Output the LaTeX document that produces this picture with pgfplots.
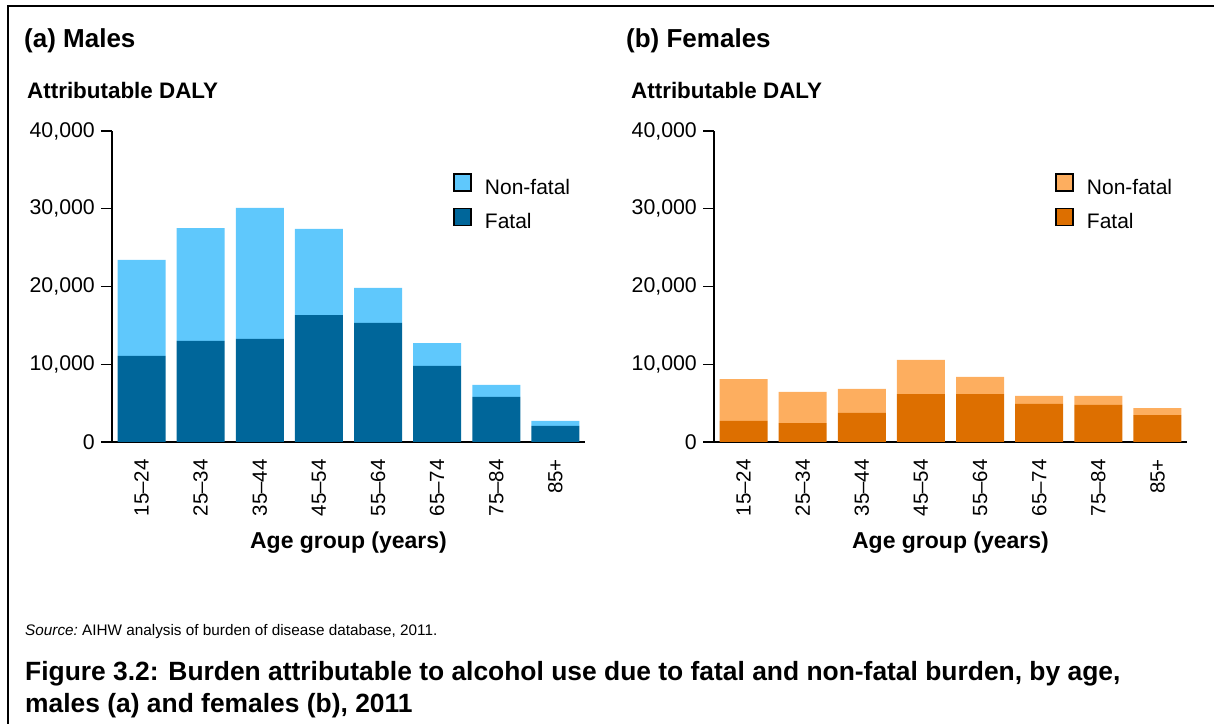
\documentclass[border=0pt]{standalone}
\usepackage{fontspec}
\setmainfont{Liberation Sans}
\usepackage{pgfplots}
\pgfplotsset{compat=1.18}

\definecolor{mlight}{HTML}{5FC8FC}
\definecolor{mdark}{HTML}{00669A}
\definecolor{flight}{HTML}{FDAE5F}
\definecolor{fdark}{HTML}{DD6F00}

\newcommand{\fs}[1]{\fontsize{#1bp}{1.2\dimexpr#1bp\relax}\selectfont}

\pgfplotsset{
  panel/.style={
    ybar stacked, bar width=48bp,
    scale only axis, width=473bp, height=311bp,
    xmin=-0.5, xmax=7.5, ymin=0, ymax=40000,
    axis x line*=bottom, axis y line*=left,
    x axis line style={line width=2.2bp},
    y axis line style={line width=1.4bp},
    xtick=data,
    xticklabels={15--24,25--34,35--44,45--54,55--64,65--74,75--84,85+},
    x tick style={draw=none},
    xticklabel style={rotate=90, anchor=east, inner sep=0pt, font=\fs{20.5}},
    xticklabel shift=6bp,
    ytick={0,10000,20000,30000,40000},
    yticklabels={0,{10,000},{20,000},{30,000},{40,000}},
    scaled y ticks=false,
    y tick style={line width=1.4bp, black},
    major tick length=11bp, tick align=outside,
    yticklabel style={inner sep=0pt, font=\fs{21.3}},
    yticklabel shift=6bp,
    legend style={draw=none, fill=none, at={(0.721,0.865)}, anchor=north west,
      inner sep=0pt, font=\fs{21}, row sep=10bp, column sep=0pt},
    legend cell align=left,
    reverse legend,
    legend image code/.code={
      \draw[##1, draw=black, line width=1.4bp] (0bp,-3.5bp) rectangle (17bp,13.5bp);
      \path (29bp,0bp);},
  }
}

\begin{document}
\begin{tikzpicture}[x=1bp, y=1bp]
\useasboundingbox (0,0) rectangle (1214,724);

% frame: top and left edges only
\draw[line width=2bp] (8,0) -- (8,718) -- (1214,718);

% (a) males
\begin{axis}[panel, at={(112bp,282bp)}, anchor=south west]
  \addplot[fill=mdark, draw=none] coordinates {
    (0,11060) (1,12990) (2,13250) (3,16330)
    (4,15310) (5,9775) (6,5790) (7,2060)
  };
  \addplot[fill=mlight, draw=none] coordinates {
    (0,12350) (1,14530) (2,16850) (3,11070)
    (4,4500) (5,2955) (6,1540) (7,640)
  };
  \legend{Fatal, Non-fatal}
\end{axis}

% (b) females
\begin{axis}[panel, at={(714bp,282bp)}, anchor=south west]
  \addplot[fill=fdark, draw=none] coordinates {
    (0,2700) (1,2440) (2,3730) (3,6170)
    (4,6170) (5,4890) (6,4760) (7,3470)
  };
  \addplot[fill=flight, draw=none] coordinates {
    (0,5400) (1,3990) (2,3090) (3,4380)
    (4,2190) (5,1030) (6,1160) (7,900)
  };
  \legend{Fatal, Non-fatal}
\end{axis}

% titles and labels
\node[anchor=base west, inner sep=0pt, font=\fs{26}\bfseries] at (24,676) {(a) Males};
\node[anchor=base west, inner sep=0pt, font=\fs{22.4}\bfseries] at (27,625) {Attributable DALY};
\node[anchor=base west, inner sep=0pt, font=\fs{26}\bfseries] at (626,676) {(b) Females};
\node[anchor=base west, inner sep=0pt, font=\fs{22.4}\bfseries] at (631,625) {Attributable DALY};

\node[anchor=base, inner sep=0pt, font=\fs{23}\bfseries] at (348.5,175) {Age group (years)};
\node[anchor=base, inner sep=0pt, font=\fs{23}\bfseries] at (950.5,175) {Age group (years)};

\node[anchor=base west, inner sep=0pt, font=\fs{15.3}] at (25,88) {\textit{Source:}\ AIHW analysis of burden of disease database, 2011.};
\node[anchor=base west, inner sep=0pt, font=\fs{26.4}\bfseries] at (25,43) {Figure 3.2: Burden attributable to alcohol use due to fatal and non-fatal burden, by age,};
\node[anchor=base west, inner sep=0pt, font=\fs{26.4}\bfseries] at (25,11) {males (a) and females (b), 2011};
\end{tikzpicture}
\end{document}
